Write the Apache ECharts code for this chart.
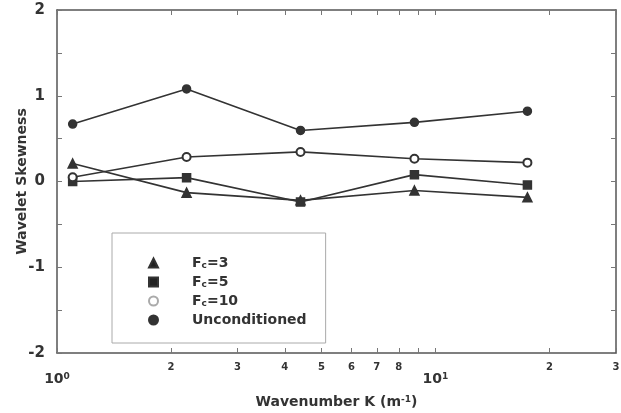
<!DOCTYPE html>
<html>
<head>
<meta charset="utf-8">
<script src="https://cdn.jsdelivr.net/npm/echarts@6/dist/echarts.min.js"></script>
<style>html,body{margin:0;padding:0;background:#fff}#c{width:621px;height:413px}</style>
</head>
<body>
<div id="c"></div>
<script>
// Data
var wavenumbers = [1.1, 2.2, 4.4, 8.8, 17.5];
var fc3 = [0.21, -0.13, -0.22, -0.105, -0.185];
var fc5 = [0.0, 0.045, -0.24, 0.08, -0.04];
var fc10 = [0.05, 0.285, 0.345, 0.265, 0.22];
var unconditioned = [0.67, 1.08, 0.595, 0.69, 0.82];
var seriesNames = ['Fc=3', 'Fc=5', 'Fc=10', 'Unconditioned'];
var xTickValues = [1, 2, 3, 4, 5, 6, 7, 8, 9, 10, 20, 30];
var xMinorLabels = [2, 3, 4, 5, 6, 7, 8, 20, 30];
var xMajorLabels = [1, 10];
var yTicks = [-2, -1, 0, 1, 2];

function pairs(ys) { return ys.map(function (y, i) { return [wavenumbers[i], y]; }); }

var FONT = 'DejaVu Sans';
var INK = '#333';
var chart = echarts.init(document.getElementById('c'), null, { renderer: 'canvas' });

var axisLine = { show: true, onZero: false, lineStyle: { color: '#555', width: 1.5 } };
var tickStyle = { color: '#777', width: 1 };

function mkSeries(name, data, symbol, size) {
  return {
    name: name, type: 'line', data: pairs(data), xAxisIndex: 0, yAxisIndex: 0,
    symbol: symbol, symbolSize: size,
    lineStyle: { color: INK, width: 1.6 },
    itemStyle: { color: INK, borderColor: INK, borderWidth: 1.5 },
    emphasis: { disabled: true }
  };
}

chart.setOption({
  animation: false,
  backgroundColor: '#fff',
  grid: { left: 57, right: 5, top: 10, bottom: 60, containLabel: false, outerBoundsMode: 'none' },
  xAxis: [
    {
      type: 'log', logBase: 10, min: 1, max: 30, position: 'bottom',
      name: 'Wavenumber K (m{sup|-1})', nameLocation: 'middle', nameGap: 42, nameMoveOverlap: false,
      nameTextStyle: { fontFamily: FONT, fontWeight: 'bold', fontSize: 14, color: INK,
        rich: { sup: { fontFamily: FONT, fontWeight: 'bold', fontSize: 9, verticalAlign: 'top', lineHeight: 10, color: INK } } },
      axisLine: axisLine,
      axisTick: { show: true, inside: true, length: 5, lineStyle: tickStyle, customValues: xTickValues },
      axisLabel: { show: true, customValues: xMinorLabels, margin: 9, fontFamily: FONT, fontWeight: 'bold', fontSize: 10, color: INK,
        formatter: function (v) { var n = Math.round(v); return String(n >= 10 ? n / 10 : n); } },
      splitLine: { show: false }, minorTick: { show: false }
    },
    {
      type: 'log', logBase: 10, min: 1, max: 30, position: 'bottom',
      axisLine: { show: false, onZero: false }, axisTick: { show: false }, splitLine: { show: false },
      axisLabel: { show: true, customValues: xMajorLabels, margin: 19, fontFamily: FONT, fontWeight: 'bold', fontSize: 14, color: INK,
        formatter: function (v) { return '10{sup|' + Math.round(Math.log10(v)) + '}'; },
        rich: { sup: { fontFamily: FONT, fontWeight: 'bold', fontSize: 9, verticalAlign: 'top', lineHeight: 10, color: INK } } }
    },
    {
      type: 'log', logBase: 10, min: 1, max: 30, position: 'top',
      axisLine: axisLine, splitLine: { show: false }, axisLabel: { show: false },
      axisTick: { show: true, inside: true, length: 5, lineStyle: tickStyle, customValues: xTickValues }
    }
  ],
  yAxis: [
    {
      type: 'value', min: yTicks[0], max: yTicks[yTicks.length - 1], interval: 1, position: 'left',
      name: 'Wavelet Skewness', nameLocation: 'middle', nameGap: 28, nameMoveOverlap: false,
      nameTextStyle: { fontFamily: FONT, fontWeight: 'bold', fontSize: 14, color: INK },
      axisLine: axisLine,
      axisTick: { show: true, inside: true, length: 5, lineStyle: tickStyle },
      minorTick: { show: true, splitNumber: 2, length: 5, lineStyle: tickStyle },
      axisLabel: { margin: 12, fontFamily: FONT, fontWeight: 'bold', fontSize: 15, color: INK },
      splitLine: { show: false }
    },
    {
      type: 'value', min: yTicks[0], max: yTicks[yTicks.length - 1], interval: 1, position: 'right',
      axisLine: axisLine,
      axisTick: { show: true, inside: true, length: 5, lineStyle: tickStyle },
      minorTick: { show: true, splitNumber: 2, length: 5, lineStyle: tickStyle },
      axisLabel: { show: false }, splitLine: { show: false }
    }
  ],
  legend: {
    left: 112, top: 233, orient: 'vertical',
    padding: [23, 19, 16, 36],
    itemWidth: 9, itemHeight: 9, itemGap: 5,
    borderColor: '#aaa', borderWidth: 1, backgroundColor: '#fff',
    selectedMode: false,
    textStyle: { fontFamily: FONT, fontWeight: 'bold', fontSize: 14, lineHeight: 14, color: INK,
      rich: {
        g: { width: 29, fontSize: 14, lineHeight: 14 },
        sub: { fontFamily: FONT, fontWeight: 'bold', fontSize: 9, lineHeight: 14, verticalAlign: 'bottom', color: INK }
      } },
    formatter: function (name) { return '{g| }' + name.replace(/^Fc/, 'F{sub|c}'); },
    data: [
      { name: seriesNames[0], icon: 'triangle', itemStyle: { color: '#222' } },
      { name: seriesNames[1], icon: 'rect', itemStyle: { color: '#222' } },
      { name: seriesNames[2], icon: 'emptyCircle', itemStyle: { color: '#aaa', borderColor: '#aaa', borderWidth: 1 } },
      { name: seriesNames[3], icon: 'circle', itemStyle: { color: '#333' } }
    ]
  },
  series: [
    mkSeries(seriesNames[0], fc3, 'triangle', 9),
    mkSeries(seriesNames[1], fc5, 'rect', 8),
    mkSeries(seriesNames[2], fc10, 'emptyCircle', 8),
    mkSeries(seriesNames[3], unconditioned, 'circle', 8)
  ]
});
</script>
</body>
</html>
